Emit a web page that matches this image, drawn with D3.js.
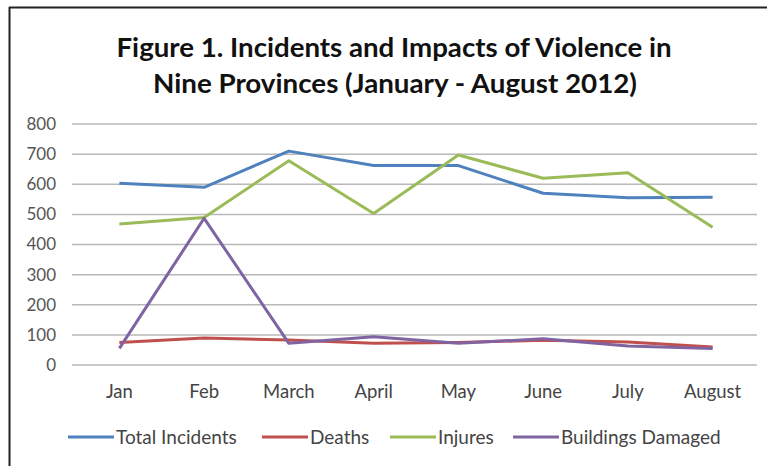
<!DOCTYPE html>
<html><head><meta charset="utf-8">
<script src="https://cdn.jsdelivr.net/npm/d3@7"></script>
<style>body{margin:0;background:#fff;} svg{display:block;}</style>
</head><body>
<svg id="c" width="767" height="466"></svg>
<script>
const months = ["Jan","Feb","March","April","May","June","July","August"];
const totalIncidents = [603, 590, 710, 662, 662, 570, 555, 557];
const deaths = [75, 90, 83, 72, 75, 82, 76, 60];
const injures = [468, 490, 678, 503, 697, 620, 638, 457];
const buildingsDamaged = [55, 487, 72, 94, 72, 87, 63, 55];
const yTicks = [0,100,200,300,400,500,600,700,800];
const seriesNames = ["Total Incidents","Deaths","Injures","Buildings Damaged"];
const colors = ["#4F81BD","#C0504D","#9BBB59","#8064A2"];
const series = [totalIncidents, deaths, injures, buildingsDamaged];

const svg = d3.select("#c");
const font = "Lato, 'Open Sans', sans-serif";

// border (top & left visible)
svg.append("line").attr("x1",9).attr("x2",767).attr("y1",7.5).attr("y2",7.5).attr("stroke","#222").attr("stroke-width",2);
svg.append("line").attr("x1",9.5).attr("x2",9.5).attr("y1",7).attr("y2",466).attr("stroke","#222").attr("stroke-width",2);

// title
const title = svg.append("g").attr("font-family",font).attr("font-weight","bold").attr("font-size",27).attr("fill","#111").attr("text-anchor","middle");
title.append("text").attr("x",394).attr("y",57).attr("textLength",555).attr("lengthAdjust","spacingAndGlyphs").text("Figure 1. Incidents and Impacts of Violence in");
title.append("text").attr("x",395).attr("y",93).attr("textLength",484).attr("lengthAdjust","spacingAndGlyphs").text("Nine Provinces (January - August 2012)");

const x = d3.scaleBand().domain(months).range([77,755]);
const y = d3.scaleLinear().domain([0,800]).range([365,124]);

// gridlines
svg.append("g").selectAll("line").data(yTicks).join("line")
  .attr("x1",72).attr("x2",757)
  .attr("y1",d=>y(d)).attr("y2",d=>y(d))
  .attr("stroke","#b8b8b8").attr("stroke-width",1.5);

// y axis labels
const yAxis = d3.axisLeft(y).tickValues(yTicks).tickSize(0).tickPadding(0);
const ya = svg.append("g").attr("transform","translate(56,0)").call(yAxis);
ya.select(".domain").remove();
ya.selectAll("text").attr("font-family",font).attr("font-size",17).attr("fill","#555");

// x axis labels
const xAxis = d3.axisBottom(x).tickSize(0).tickPadding(0);
const xa = svg.append("g").attr("transform","translate(0,385)").call(xAxis);
xa.select(".domain").remove();
xa.selectAll("text").attr("font-family",font).attr("font-size",18.5).attr("fill","#444");

// lines
const line = d3.line().x((d,i)=>x(months[i])+x.bandwidth()/2).y(d=>y(d));
series.forEach((s,k)=>{
  svg.append("path").datum(s).attr("d",line).attr("fill","none")
    .attr("stroke",colors[k]).attr("stroke-width",3).attr("stroke-linejoin","round");
});

// legend
const legendX = [68,262,390,513];
const lg = svg.append("g").attr("font-family",font).attr("font-size",19).attr("fill","#444");
seriesNames.forEach((n,k)=>{
  lg.append("line").attr("x1",legendX[k]).attr("x2",legendX[k]+46).attr("y1",437).attr("y2",437)
    .attr("stroke",colors[k]).attr("stroke-width",3);
  lg.append("text").attr("x",legendX[k]+48).attr("y",444).text(n);
});
</script>
</body></html>
